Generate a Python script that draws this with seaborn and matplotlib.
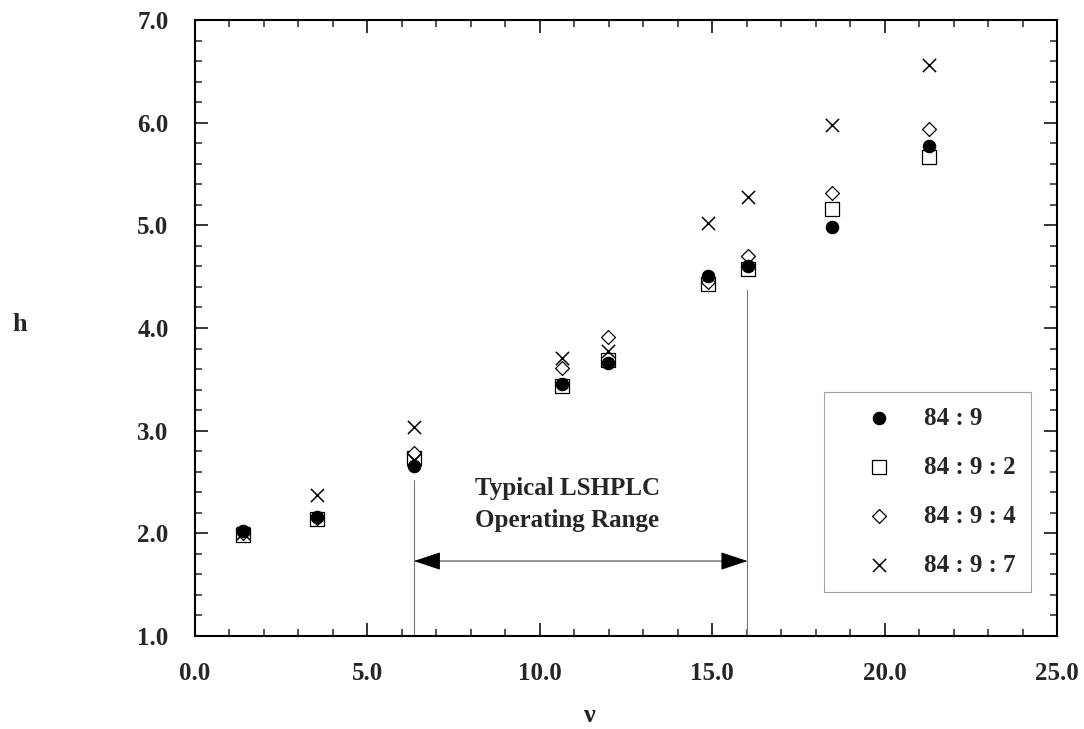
import matplotlib
matplotlib.use("Agg")
import matplotlib.pyplot as plt
import seaborn as sns
import pandas as pd
from matplotlib.ticker import MultipleLocator

# ---- data ----
nu = [1.39, 3.54, 6.35, 10.64, 11.98, 14.88, 16.04, 18.47, 21.29]
h_84_9 = [2.02, 2.16, 2.66, 3.45, 3.66, 4.51, 4.60, 4.98, 5.77]
h_84_9_2 = [1.98, 2.14, 2.73, 3.43, 3.69, 4.43, 4.57, 5.16, 5.67]
h_84_9_4 = [2.00, 2.15, 2.78, 3.61, 3.91, 4.45, 4.70, 5.31, 5.94]
h_84_9_7 = [2.00, 2.37, 3.04, 3.71, 3.78, 5.02, 5.28, 5.98, 6.56]
extra_nu_7 = [6.35]
extra_h_7 = [2.71]
labels = ["84 : 9", "84 : 9 : 2", "84 : 9 : 4", "84 : 9 : 7"]
range_lo, range_hi = 6.35, 16.02
range_top_lo, range_top_hi = 2.52, 4.37
arrow_h = 1.73
x_ticks = [0, 5, 10, 15, 20, 25]
y_ticks = [1, 2, 3, 4, 5, 6, 7]

sns.set_theme(style="ticks")
plt.rcParams["font.family"] = ["Liberation Serif", "DejaVu Serif"]
plt.rcParams["font.weight"] = "bold"

fig = plt.figure(figsize=(10.84, 7.29), dpi=100)
ax = fig.add_axes([0.1799, 0.1276, 0.7952, 0.845])

styles = [
    dict(marker="o", s=80, color="black", edgecolor="black", linewidth=0.8, zorder=5),
    dict(marker="s", s=88, facecolor="white", edgecolor="black", linewidth=0.9, zorder=3),
    dict(marker="D", s=50, facecolor="white", edgecolor="black", linewidth=0.9, zorder=4),
    dict(marker="x", s=90, color="black", linewidth=1.1, zorder=4),
]
series = [h_84_9, h_84_9_2, h_84_9_4, h_84_9_7]
for lab, vals, st in zip(labels, series, styles):
    df = pd.DataFrame({"nu": nu, "h": vals})
    if lab == labels[-1]:
        df = pd.concat([df, pd.DataFrame({"nu": extra_nu_7, "h": extra_h_7})])
    sns.scatterplot(data=df, x="nu", y="h", ax=ax, label=lab, **st)

# operating range lines and arrow
ax.plot([range_lo, range_lo], [1.0, range_top_lo], color="#777777", lw=0.8, zorder=1)
ax.plot([range_hi, range_hi], [1.0, range_top_hi], color="#777777", lw=0.8, zorder=1)
ax.annotate("", xy=(range_lo, arrow_h), xytext=(range_hi, arrow_h),
            arrowprops=dict(arrowstyle="<|-|>,head_length=0.6,head_width=0.2",
                            color="black", lw=0.6, mutation_scale=29,
                            shrinkA=0, shrinkB=0))
ax.text(10.8, 2.276, "Typical LSHPLC\nOperating Range", ha="center", va="center",
        fontsize=18, fontweight="bold", linespacing=1.5)

ax.set_xlim(0, 25)
ax.set_ylim(1, 7)
ax.set_xticks(x_ticks)
ax.set_yticks(y_ticks)
ax.set_xticklabels([f"{v:.1f}" for v in x_ticks], fontsize=18, fontweight="bold")
ax.set_yticklabels([f"{v:.1f}" for v in y_ticks], fontsize=18, fontweight="bold")
ax.xaxis.set_minor_locator(MultipleLocator(1))
ax.yaxis.set_minor_locator(MultipleLocator(0.2))
ax.tick_params(which="major", direction="in", length=9.5, width=1.3, top=True, right=True)
ax.tick_params(which="minor", direction="in", length=5, width=1.1, top=True, right=True)
ax.tick_params(axis="x", which="major", pad=19)
ax.tick_params(axis="y", which="major", pad=19)
for sp in ax.spines.values():
    sp.set_linewidth(1.5)
    sp.set_color("black")

ax.set_xlabel("ν", fontsize=19, fontweight="bold", va="center")
ax.xaxis.set_label_coords((589 - 195) / 862, -(716 - 636) / 616)
ax.set_ylabel("h", fontsize=19, fontweight="bold", rotation=0, va="center", ha="center")
ax.yaxis.set_label_coords(-(195 - 20) / 862, (636 - 325) / 616)

leg = ax.legend(loc="upper left", bbox_to_anchor=((824 - 195) / 862, (636 - 392) / 616),
                frameon=True, fancybox=False, fontsize=18, labelspacing=1.04,
                borderpad=0.6, handlelength=3.2, handletextpad=0.2,
                borderaxespad=0, markerscale=1.0)
leg.get_frame().set_edgecolor("#888888")
leg.get_frame().set_linewidth(0.8)
for t in leg.get_texts():
    t.set_fontweight("bold")

fig.savefig("out.png", dpi=100)
